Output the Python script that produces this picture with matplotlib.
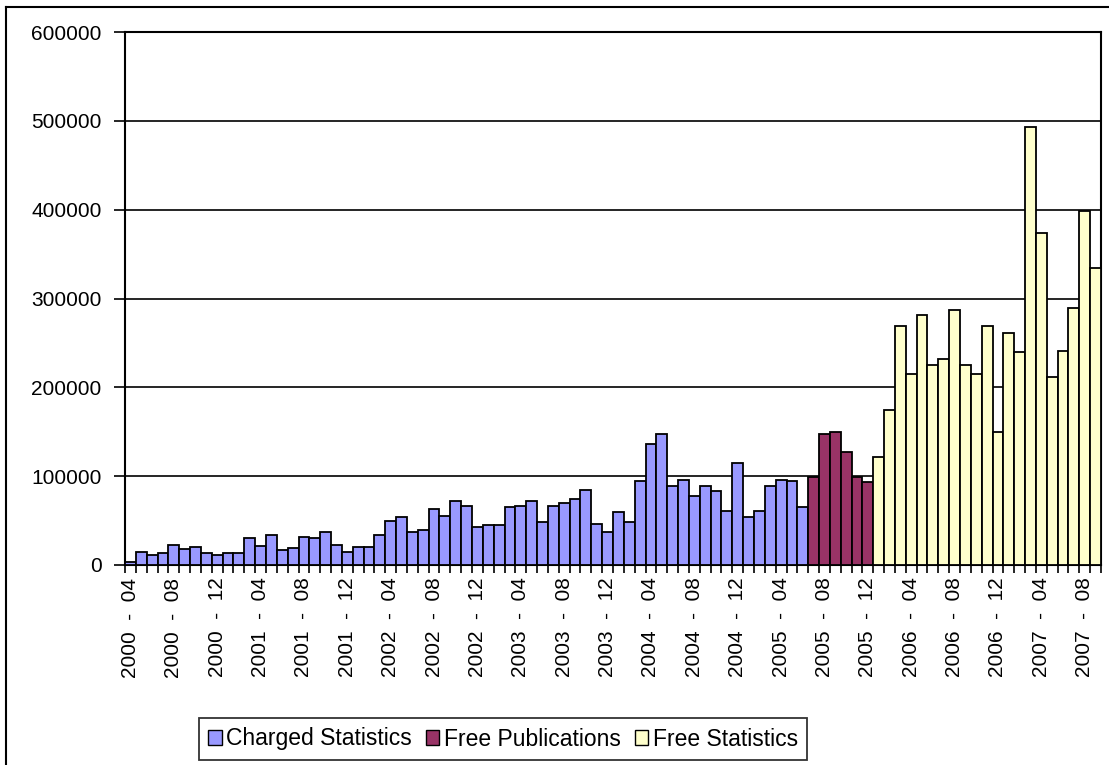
import numpy as np
import matplotlib.pyplot as plt
from matplotlib.patches import Patch
from matplotlib.lines import Line2D

plt.rcParams['font.family'] = ['Liberation Sans', 'DejaVu Sans']

# monthly values, 2000-04 .. 2007-09
charged = [3000, 15000, 11200, 13100, 22500, 18000, 20600, 13100, 11200, 13100,
           13100, 30000, 21700, 33700, 16500, 19100, 31800, 30000, 37100, 22500,
           15000, 20600, 20600, 33700, 49800, 53600, 37100, 39300, 62900, 55400,
           71900, 66300, 42700, 44600, 44600, 64800, 66300, 71900, 48000, 66300,
           70000, 73800, 84700, 46100, 36700, 59200, 48000, 94000, 136000, 147300,
           88400, 95900, 77600, 88800, 83200, 61100, 114300, 54000, 61100, 88800,
           95900, 94400, 65000]
free_pubs = [99500, 147300, 149500, 127400, 99300, 93700]
free_stats = [121800, 175000, 268700, 215400, 281800, 224800, 232300, 287400,
              224800, 215400, 268700, 149900, 261200, 239400, 492700, 373600,
              211700, 240900, 289300, 398300, 334600]

start_year, start_month = 2000, 4
n = len(charged) + len(free_pubs) + len(free_stats)
months = []
for k in range(n):
    m = start_month - 1 + k
    months.append(f"{start_year + m // 12}  -  {m % 12 + 1:02d}")

W, H = 1109, 765
fig = plt.figure(figsize=(W / 100, H / 100), dpi=100)
ax = fig.add_axes([125 / W, 1 - 565 / H, (1101 - 125) / W, (565 - 32) / H])

x = np.arange(n)
c_x = x[:len(charged)]
p_x = x[len(charged):len(charged) + len(free_pubs)]
s_x = x[len(charged) + len(free_pubs):]

bar_kw = dict(width=1.0, edgecolor='black', linewidth=1.3, zorder=3)
ax.bar(c_x, charged, color='#9999FF', **bar_kw)
ax.bar(p_x, free_pubs, color='#993366', **bar_kw)
ax.bar(s_x, free_stats, color='#FFFFCC', **bar_kw)

ax.set_xlim(-0.5, n - 0.5)
ax.set_ylim(0, 600000)
ax.set_yticks(np.arange(0, 600001, 100000))
ax.yaxis.grid(True, color='black', linewidth=1.2, zorder=0)
ax.set_axisbelow(True)

ax.set_xticks(x[::4])
ax.set_xticklabels(months[::4], rotation=90, va='top', ha='center')
ax.set_xticks(np.arange(-0.5, n, 1.0), minor=True)
ax.tick_params(axis='x', which='major', length=0, pad=9, labelsize=15)
ax.tick_params(axis='x', which='minor', length=6, width=1.2, direction='out')
ax.tick_params(axis='y', length=8, width=1.2, pad=9, labelsize=15, colors='black')

for s in ax.spines.values():
    s.set_color('black')
    s.set_linewidth(1.5)

# outer chart frame
fig.add_artist(Line2D([6 / W, 6 / W], [-0.1, 1 - 7 / H], color='black', lw=1.5))
fig.add_artist(Line2D([6 / W, 1.1], [1 - 7 / H, 1 - 7 / H], color='black', lw=1.5))

handles = [Patch(facecolor='#9999FF', edgecolor='black', label='Charged Statistics'),
           Patch(facecolor='#993366', edgecolor='black', label='Free Publications'),
           Patch(facecolor='#FFFFCC', edgecolor='black', label='Free Statistics')]
leg = fig.legend(handles=handles, loc='center', ncol=3,
                 bbox_to_anchor=(503 / W, 1 - 739 / H), fontsize=16.5,
                 frameon=True, fancybox=False, shadow=False,
                 handlelength=0.6, handleheight=0.6, handletextpad=0.2,
                 columnspacing=0.6, borderpad=0.4, borderaxespad=0)
leg.get_frame().set_edgecolor('black')
leg.get_frame().set_linewidth(1.3)

fig.savefig('out.png', dpi=100)
